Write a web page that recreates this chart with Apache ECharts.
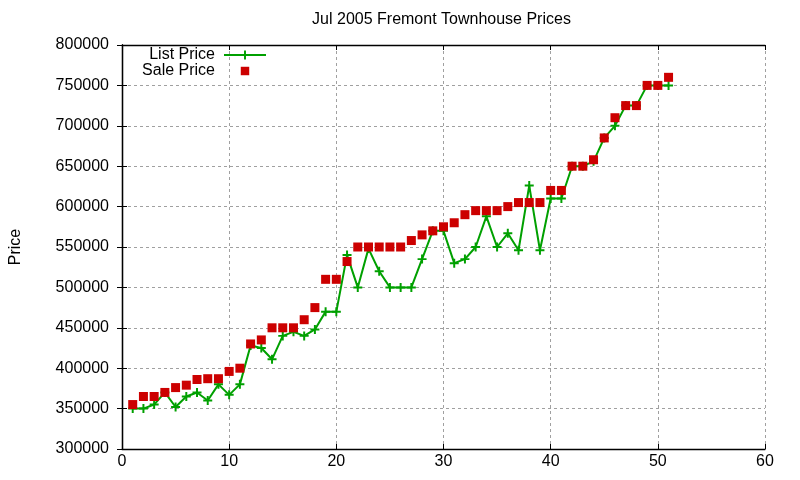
<!DOCTYPE html>
<html>
<head>
<meta charset="utf-8">
<script src="https://cdn.jsdelivr.net/npm/echarts@6/dist/echarts.min.js"></script>
<style>
html,body{margin:0;padding:0;background:#fff;}
#chart{width:800px;height:480px;}
</style>
</head>
<body>
<div id="chart"></div>
<script>
// Data
var index = [1,2,3,4,5,6,7,8,9,10,11,12,13,14,15,16,17,18,19,20,21,22,23,24,25,26,27,28,29,30,31,32,33,34,35,36,37,38,39,40,41,42,43,44,45,46,47,48,49,50,51];
var listPrice = [350000,350000,355000,370000,352000,365000,370000,360000,380000,367000,380000,428000,425000,411000,440000,445000,440000,448000,470000,470000,540000,500000,548000,520000,500000,500000,500000,535000,570000,570000,530000,535000,550000,588000,550000,567000,546000,626000,546000,610000,610000,650000,650000,656000,685000,700000,725000,725000,750000,750000,750000];
var salePrice = [355000,365000,365000,370000,376000,379000,386000,387000,387000,396000,400000,430000,435000,450000,450000,450000,460000,475000,510000,510000,532000,550000,550000,550000,550000,550000,558000,565000,570000,575000,580000,590000,595000,595000,595000,600000,605000,605000,605000,620000,620000,650000,650000,658000,685000,710000,725000,725000,750000,750000,760000];
var seriesNames = ['List Price', 'Sale Price'];
var titleText = 'Jul 2005 Fremont Townhouse Prices';
var yAxisName = 'Price';

function pairs(xs, ys) { return xs.map(function (x, i) { return [x, ys[i]]; }); }

var FONT = '"Liberation Sans", Arial, sans-serif';
var crossPath = 'path://M0,3.9 H3.9 V0 H6.1 V3.9 H10 V6.1 H6.1 V10 H3.9 V6.1 H0 Z';
var squareLegend = 'path://M-1.5,-1.5 L-1.5,-1.5 M0,0 H10 V10 H0 Z M11.5,11.5 L11.5,11.5';

var gridLine = { show: true, lineStyle: { color: '#a0a0a0', width: 1, type: [3, 3] } };
var axisLine = { show: true, lineStyle: { color: '#000', width: 1.3 } };
var tick = { show: true, inside: true, length: 5, lineStyle: { color: '#000', width: 1 } };

var chart = echarts.init(document.getElementById('chart'), null, { renderer: 'canvas' });
chart.setOption({
  animation: false,
  backgroundColor: '#fff',
  textStyle: { fontFamily: FONT },
  title: {
    text: titleText,
    left: 441.5,
    top: 12,
    padding: 0,
    textAlign: 'center',
    textStyle: { fontFamily: FONT, fontSize: 16, fontWeight: 'normal', color: '#000' }
  },
  legend: {
    orient: 'vertical',
    right: 533,
    top: 47,
    padding: 0,
    align: 'right',
    itemWidth: 42,
    itemHeight: 11,
    itemGap: 0,
    textStyle: { fontFamily: FONT, fontSize: 16, color: '#000', lineHeight: 16, padding: [0, 4, 0, 0] },
    data: [{ name: seriesNames[0] }, { name: seriesNames[1], icon: squareLegend }]
  },
  grid: { left: 118, top: 45, right: 35, bottom: 31, containLabel: false },
  xAxis: [{
    type: 'value', min: 0, max: 60, interval: 10, position: 'bottom',
    axisLine: axisLine, axisTick: tick, splitLine: gridLine,
    axisLabel: { fontFamily: FONT, fontSize: 16, color: '#000', margin: 5 }
  }, {
    type: 'value', min: 0, max: 60, interval: 10, position: 'top',
    axisLine: axisLine, axisTick: tick, splitLine: { show: false }, axisLabel: { show: false }
  }],
  yAxis: [{
    type: 'value', min: 300000, max: 800000, interval: 50000, position: 'left',
    name: yAxisName, nameLocation: 'middle', nameGap: 98,
    nameTextStyle: { fontFamily: FONT, fontSize: 16, color: '#000' },
    axisLine: axisLine, axisTick: tick, splitLine: gridLine,
    axisLabel: { fontFamily: FONT, fontSize: 16, color: '#000', margin: 13,
      formatter: function (v) { return String(v); } }
  }, {
    type: 'value', min: 300000, max: 800000, interval: 50000, position: 'right',
    axisLine: axisLine, axisTick: tick, splitLine: { show: false }, axisLabel: { show: false }
  }],
  series: [{
    name: seriesNames[0],
    type: 'line',
    xAxisIndex: 0, yAxisIndex: 0,
    data: pairs(index, listPrice),
    symbol: crossPath,
    symbolSize: 9,
    showAllSymbol: true,
    lineStyle: { color: '#00a000', width: 2 },
    itemStyle: { color: '#00a000' },
    z: 2
  }, {
    name: seriesNames[1],
    type: 'scatter',
    xAxisIndex: 0, yAxisIndex: 0,
    data: pairs(index, salePrice),
    symbol: 'rect',
    symbolSize: 9,
    itemStyle: { color: '#cc0000', opacity: 1 },
    z: 3
  }]
});
</script>
</body>
</html>
